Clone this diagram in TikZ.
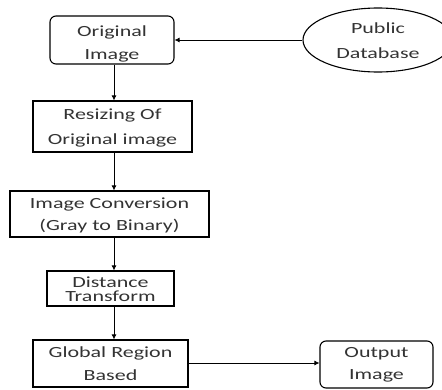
\documentclass[tikz,border=0pt]{standalone}
\usepackage{fontspec}
\setmainfont{Carlito}
\usepackage{graphicx}
\usetikzlibrary{shapes.geometric,arrows.meta}
\newcommand{\sx}[1]{\scalebox{1.42}[1]{#1}}
\tikzset{
  box/.style={draw=black, line width=1.1pt, rectangle, inner sep=0pt, align=center, text=black!80},
  rbox/.style={box, rounded corners=6pt},
  tx/.style 2 args={font=\fontsize{15.5}{#1}\selectfont, text height=#2, text depth=0pt},
  conn/.style={draw=black, line width=0.8pt, -{Latex[length=5pt,width=5pt]}}
}
\begin{document}
\begin{tikzpicture}[x=1pt,y=1pt]
\useasboundingbox (0,0) rectangle (442,-389);
\clip (0,0) rectangle (442,-389);
\node[rbox, tx={23}{38pt}, minimum width=124pt, minimum height=48pt] (orig) at (112,-40) {\sx{Original}\\\sx{Image}};
\node[box, ellipse, tx={25}{36pt}, minimum width=150pt, minimum height=64pt] (db) at (378,-40) {\sx{Public}\\\sx{Database}};
\node[box, tx={25}{35pt}, minimum width=159pt, minimum height=51pt] (resize) at (112.5,-126.5) {\sx{Resizing Of}\\\sx{Original image}};
\node[box, tx={22}{32pt}, minimum width=199pt, minimum height=46pt] (conv) at (109.5,-214) {\sx{Image Conversion}\\\sx{(Gray to Binary)}};
\node[box, tx={14}{25pt}, minimum width=127pt, minimum height=35pt] (dist) at (110.5,-288.5) {\sx{Distance}\\\sx{Transform}};
\node[box, tx={23}{33pt}, minimum width=155pt, minimum height=47pt] (glob) at (110.5,-363.5) {\sx{Global Region}\\\sx{Based}};
\node[rbox, tx={22}{29pt}, minimum width=113pt, minimum height=47pt] (out) at (376.5,-364.5) {\sx{Output}\\\sx{Image}};
\draw[conn] (db) -- (orig);
\draw[conn] (orig.south -| 114,0) -- (resize.north -| 114,0);
\draw[conn] (resize.south -| 114,0) -- (conv.north -| 114,0);
\draw[conn] (conv.south -| 114,0) -- (dist.north -| 114,0);
\draw[conn] (dist.south -| 114,0) -- (glob.north -| 114,0);
\draw[conn] (glob.east |- 0,-363) -- (out.west |- 0,-363);
\end{tikzpicture}
\end{document}
